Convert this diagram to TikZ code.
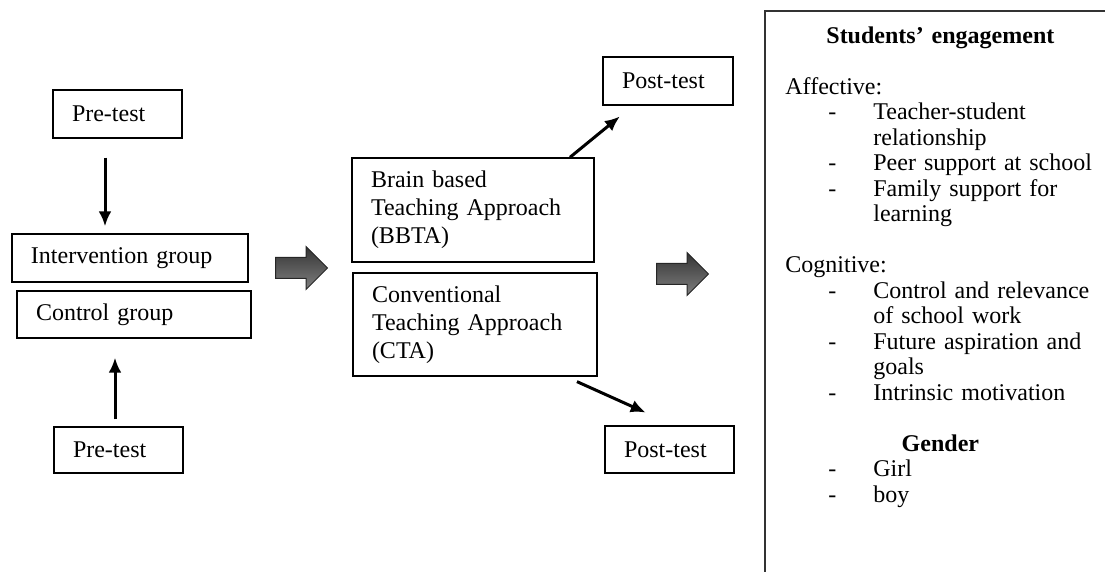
\documentclass[tikz,border=0pt]{standalone}
\usepackage{fontspec}
\setmainfont{Liberation Serif}
\usepackage{tikz}
\usetikzlibrary{shapes}
\usetikzlibrary{arrows.meta}
\tikzset{
	box/.style={draw,rectangle,line width=0.7pt,align=left,inner xsep=9.5pt,
		font=\fontsize{12}{14}\selectfont},
	conn/.style={->,line width=1.5pt},
	block arrow/.style={single arrow,draw=black!85,line width=0.5pt,
		top color=black!80,bottom color=black!50,minimum height=26pt,
		single arrow head extend=5.5pt,inner xsep=0pt,inner ysep=5pt,anchor=tail}
}
\newcommand{\dashitem}[1]{\hspace*{21.5pt}\makebox[22.5pt][l]{-}#1}
\newcommand{\contitem}[1]{\hspace*{44pt}#1}

\begin{document}
\begin{tikzpicture}[x=0.5pt,y=-0.5pt,>={Latex[length=7.5pt,width=6.5pt]}]
	    \useasboundingbox (0,0) rectangle (1105,572);
	    % left column
	    \node [box,minimum width=64.5pt,minimum height=24pt,text width=45.5pt] (pre1) at (117.5,114) {Pre-test};
	    \node [box,minimum width=118pt,minimum height=24pt,text width=99pt] (ivg) at (130,258) {Intervention group};
	    \node [box,minimum width=117pt,minimum height=23.5pt,text width=98pt] (ctg) at (134,314.5) {Control group};
	    \node [box,minimum width=64.5pt,minimum height=23pt,text width=45.5pt] (pre2) at (118.5,450) {Pre-test};
	    \draw [conn,shorten <=9.5pt,shorten >=3.5pt] ([xshift=-6.25pt]pre1.south) -- ([xshift=-6.25pt]pre1.south |- ivg.north);
	    \draw [conn,shorten <=3.5pt,shorten >=9.5pt] ([xshift=-1.75pt]pre2.north) -- ([xshift=-1.75pt]pre2.north |- ctg.south);
	    \node [block arrow] (barr1) at (275,268) {};
	    % middle column
	    \node [box,minimum width=121pt,minimum height=52pt,text width=102pt] (bbta) at (473,210) {Brain based\\Teaching Approach\\(BBTA)};
	    \node [box,minimum width=122pt,minimum height=51.5pt,text width=103pt] (cta) at (475,324.5) {Conventional\\Teaching Approach\\(CTA)};
	    \node [box,minimum width=65pt,minimum height=24pt,text width=46pt] (post1) at (668,81) {Post-test};
	    \node [box,minimum width=64.5pt,minimum height=23.5pt,text width=45.5pt] (post2) at (669.5,449.5) {Post-test};
	    \draw [conn,shorten >=8.5pt] ([xshift=48.5pt]bbta.north) -- ([xshift=-17.5pt]post1.south);
	    \draw [conn,shorten <=6pt,shorten >=15.5pt] ([xshift=45.5pt]cta.south) -- ([xshift=2.25pt]post2.north);
	    \node [block arrow] (barr2) at (656,274) {};
	    % outcome box
	    \draw [line width=1pt,black!80] (765,572) -- (765,11) -- (1105,11);
	    \node [align=left,inner sep=0pt,anchor=north west,text width=175pt,
	      font=\fontsize{12}{12.75}\selectfont] (engage) at (785,26) {%
	      \makebox[155pt]{\textbf{Students’ engagement}}\\[12.75pt]
	      Affective:\\
	      \dashitem{Teacher-student}\\
	      \contitem{relationship}\\
	      \dashitem{Peer support at school}\\
	      \dashitem{Family support for}\\
	      \contitem{learning}\\[12.75pt]
	      Cognitive:\\
	      \dashitem{Control and relevance}\\
	      \contitem{of school work}\\
	      \dashitem{Future aspiration and}\\
	      \contitem{goals}\\
	      \dashitem{Intrinsic motivation}\\[12.75pt]
	      \makebox[155pt]{\textbf{Gender}}\\
	      \dashitem{Girl}\\
	      \dashitem{boy}};
	  \end{tikzpicture}
\end{document}
